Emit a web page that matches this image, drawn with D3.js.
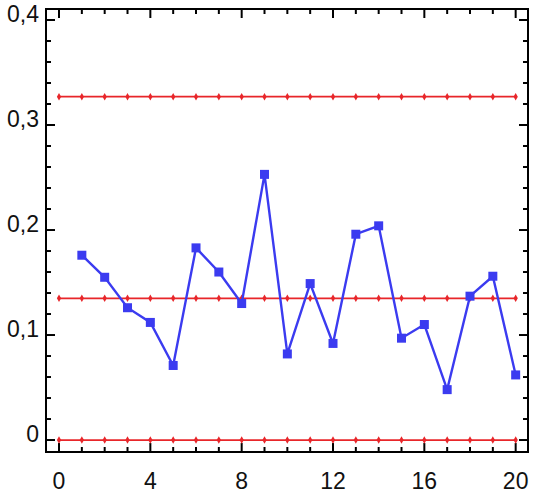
<!DOCTYPE html>
<html>
<head>
<meta charset="utf-8">
<script src="https://cdn.jsdelivr.net/npm/d3@7"></script>
<style>
  body { margin: 0; background: #fff; }
  svg { display: block; }
</style>
</head>
<body>
<svg id="chart" width="557" height="503"></svg>
<script>
const samples = d3.range(1, 21);
const values = [0.176, 0.155, 0.126, 0.112, 0.071, 0.183, 0.160, 0.130, 0.253, 0.082,
                0.149, 0.092, 0.196, 0.204, 0.097, 0.110, 0.048, 0.137, 0.156, 0.062];

// control limits: UCL, centre line, LCL
const limits = [0.327, 0.135, 0];
const limitX = d3.range(0, 21);

const xTicksMajor = [0, 4, 8, 12, 16, 20];
const yTicksMajor = [0, 0.1, 0.2, 0.3, 0.4];

const svg = d3.select('#chart');
const margin = { top: 9, right: 29, bottom: 51, left: 46 };
const width = 557, height = 503;
const w = width - margin.left - margin.right;
const h = height - margin.top - margin.bottom;

const x = d3.scaleLinear().domain([-0.57, 20.54]).range([0, w]);
const y = d3.scaleLinear().domain([-0.0114, 0.4105]).range([h, 0]);

const g = svg.append('g').attr('transform', `translate(${margin.left},${margin.top})`);

const font = '"Liberation Sans", Arial, Helvetica, sans-serif';
const fmt = v => v === 0 ? '0' : d3.format('.1f')(v).replace('.', ',');

// ticks, all pointing inward on every side
const xMinor = d3.range(0, 21).filter(v => v % 4 !== 0);
const yMinor = d3.range(0, 0.4001, 0.02).filter(v => Math.abs(v * 10 - Math.round(v * 10)) > 1e-6);
const ticks = g.append('g').attr('stroke', '#000').attr('stroke-width', 2);

function xTick(v, len) {
  ticks.append('line').attr('x1', x(v)).attr('x2', x(v)).attr('y1', h).attr('y2', h - len);
  ticks.append('line').attr('x1', x(v)).attr('x2', x(v)).attr('y1', 0).attr('y2', len);
}
function yTick(v, len) {
  ticks.append('line').attr('y1', y(v)).attr('y2', y(v)).attr('x1', 0).attr('x2', len);
  ticks.append('line').attr('y1', y(v)).attr('y2', y(v)).attr('x1', w).attr('x2', w - len);
}
xTicksMajor.forEach(v => xTick(v, 9));
xMinor.forEach(v => xTick(v, 5));
yTicksMajor.forEach(v => yTick(v, 9));
yMinor.forEach(v => yTick(v, 5));

// frame
g.append('rect')
  .attr('x', 0).attr('y', 0).attr('width', w).attr('height', h)
  .attr('fill', 'none').attr('stroke', '#000').attr('stroke-width', 2);

// tick labels
g.selectAll('.xlab').data(xTicksMajor).enter().append('text')
  .attr('class', 'xlab')
  .attr('x', d => x(d)).attr('y', h + 37)
  .attr('text-anchor', 'middle')
  .attr('font-family', font).attr('font-size', 23)
  .attr('fill', '#111')
  .text(d => d);

g.selectAll('.ylab').data(yTicksMajor).enter().append('text')
  .attr('class', 'ylab')
  .attr('x', -7).attr('y', d => y(d) + 2)
  .attr('text-anchor', 'end')
  .attr('font-family', font).attr('font-size', 23)
  .attr('fill', '#111')
  .text(fmt);

// control limit lines with small markers
const red = '#e8262a';
limits.forEach(lv => {
  g.append('line')
    .attr('x1', x(0)).attr('x2', x(20))
    .attr('y1', y(lv)).attr('y2', y(lv))
    .attr('stroke', red).attr('stroke-width', 1.8);
  g.selectAll(null).data(limitX).enter().append('path')
    .attr('d', d3.symbol(d3.symbolDiamond, 16)())
    .attr('transform', d => `translate(${x(d)},${y(lv)})`)
    .attr('fill', red);
});

// data series
const blue = '#3b3bf0';
const pts = samples.map((s, i) => ({ s, v: values[i] }));
g.append('path')
  .datum(pts)
  .attr('fill', 'none')
  .attr('stroke', blue)
  .attr('stroke-width', 2.4)
  .attr('d', d3.line().x(d => x(d.s)).y(d => y(d.v)));

g.selectAll('.pt').data(pts).enter().append('rect')
  .attr('class', 'pt')
  .attr('x', d => x(d.s) - 4.5).attr('y', d => y(d.v) - 4.5)
  .attr('width', 9).attr('height', 9)
  .attr('fill', blue);
</script>
</body>
</html>
